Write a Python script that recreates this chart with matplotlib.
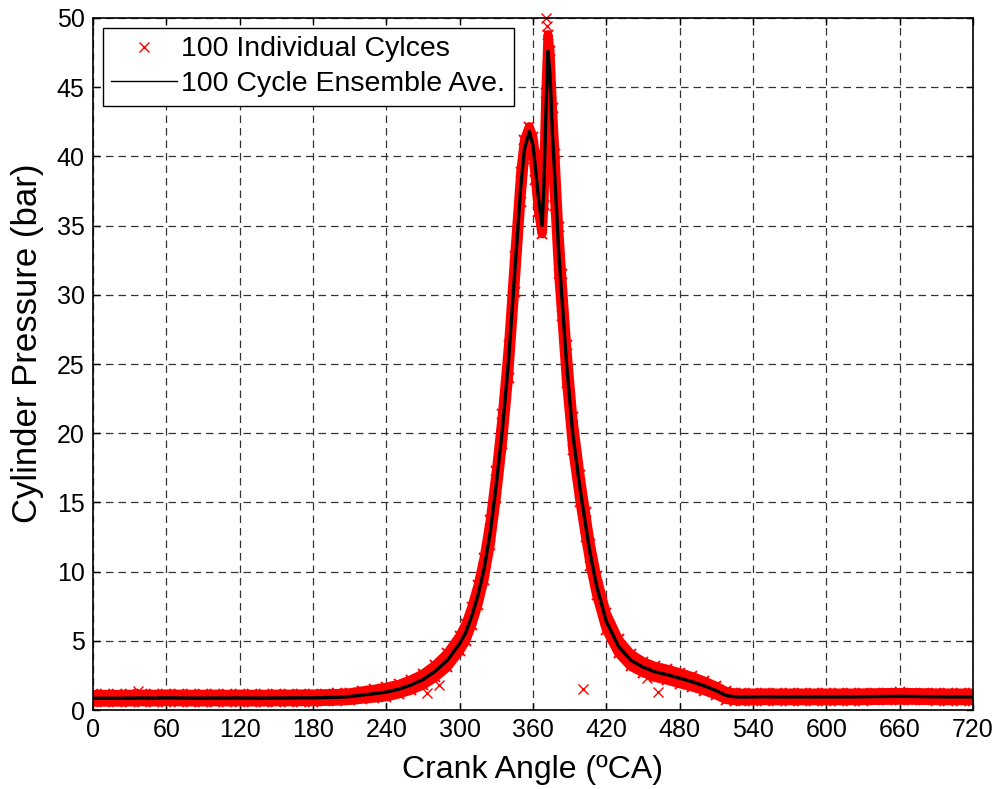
import numpy as np
import matplotlib
matplotlib.use('Agg')
import matplotlib.pyplot as plt
from matplotlib.lines import Line2D

plt.rcParams['font.family'] = ['Liberation Sans', 'DejaVu Sans']

# crank angle samples (deg CA)
crank_angle = [0, 10, 20, 30, 40, 50, 60, 70, 80, 90, 100, 110, 120, 130, 140, 150, 160, 170, 180, 190, 200,
               210, 220, 230, 240, 250, 260, 270, 280, 290,
               300, 305, 310, 315, 320, 325, 330, 335, 340, 345,
               350, 353, 357, 360, 362, 364.5, 367.5, 369, 370.5, 372.3, 374, 376, 378, 381, 383.5, 387.5,
               392.5, 398.5, 403, 407, 412, 420, 430, 440, 450, 460, 470, 480, 490, 500, 510, 518, 525, 530,
               540, 550, 560, 570, 580, 590, 600, 610, 620, 630, 640, 650, 660, 670, 680, 690, 700, 710, 720]

# ensemble average pressure (bar)
ensemble_ave = [0.85, 0.85, 0.85, 0.86, 0.87, 0.86, 0.88, 0.87, 0.86, 0.86, 0.87, 0.86, 0.87, 0.86, 0.86, 0.87,
                0.87, 0.88, 0.88, 0.90, 0.92,
                0.97, 1.08, 1.18, 1.30, 1.50, 1.80, 2.20, 2.80, 3.60,
                4.8, 5.6, 6.8, 8.3, 10.2, 12.8, 16.3, 20.3, 25.2, 31.5,
                37.8, 40.5, 41.8, 40.8, 39.2, 37.0, 35.0, 38.0, 43.0, 47.6, 45.8, 41.5, 38.3, 33.2, 30.0, 25.0,
                20.0, 16.0, 13.4, 11.2, 9.0, 6.4, 4.6, 3.6, 3.1, 2.75, 2.55, 2.3, 2.05, 1.75, 1.4, 1.05, 0.96, 0.94,
                0.95, 0.96, 0.95, 0.95, 0.95, 0.95, 0.95, 0.95, 0.95, 0.96, 0.97, 0.98, 0.99, 0.98, 0.97, 0.96,
                0.95, 0.95, 0.95]

# half width of the scatter of the 100 individual cycles (bar)
cycle_spread = [0.28, 0.28, 0.28, 0.28, 0.28, 0.28, 0.28, 0.28, 0.28, 0.28, 0.28, 0.28, 0.28, 0.28, 0.28, 0.28,
                0.28, 0.28, 0.28, 0.28, 0.28,
                0.28, 0.3, 0.32, 0.35, 0.35, 0.38, 0.4, 0.45, 0.5,
                0.55, 0.6, 0.65, 0.7, 0.8, 0.9, 1.0, 1.1, 1.2, 1.3,
                1.1, 0.7, 0.35, 0.6, 0.9, 1.0, 0.6, 1.5, 1.6, 1.2, 1.8, 2.0, 1.9, 1.7, 1.5, 1.4,
                1.2, 1.0, 0.9, 0.8, 0.7, 0.6, 0.5, 0.45, 0.4, 0.4, 0.4, 0.4, 0.38, 0.35, 0.32, 0.3, 0.28, 0.28,
                0.28, 0.28, 0.28, 0.28, 0.28, 0.28, 0.28, 0.28, 0.28, 0.28, 0.28, 0.28, 0.28, 0.28, 0.28, 0.28,
                0.28, 0.28, 0.28]

# stray individual-cycle points
outlier_angle = [37, 273, 283, 370.6, 371.5, 401, 453, 462]
outlier_pressure = [1.35, 1.2, 1.8, 50.0, 49.4, 1.5, 2.3, 1.3]

x_ticks = list(range(0, 721, 60))
y_ticks = list(range(0, 51, 5))

#############################################
# PLOT
#############################################

ang = np.array(crank_angle)
ave = np.array(ensemble_ave)
spr = np.array(cycle_spread)
lower = ave - spr
upper = ave + spr

fig = plt.figure(figsize=(10.02, 7.89), dpi=100)
ax = fig.add_axes([0.0928, 0.1001, 0.8782, 0.8771])

red = '#ff0000'
ax.fill_between(ang, lower, upper, color=red, lw=0, zorder=2)
for env in (lower, upper):
    ax.plot(ang, env, color=red, lw=6.5, solid_capstyle='round', solid_joinstyle='round', zorder=2)
    ax.plot(ang, env, ls='none', marker='x', color=red, ms=7, mew=1.4, zorder=2)
ax.plot(outlier_angle, outlier_pressure, ls='none', marker='x', color=red, ms=7, mew=1.0, zorder=2,
        clip_on=False)
ax.plot(ang, ave, color='black', lw=2.4, zorder=3)

ax.set_xlim(0, 720)
ax.set_ylim(0, 50)
ax.set_xticks(x_ticks)
ax.set_yticks(y_ticks)
ax.tick_params(direction='in', top=True, right=True, length=5, width=1, labelsize=18, pad=6)
ax.grid(True, color='#333333', ls=(0, (6, 4)), lw=0.9)
for sp in ax.spines.values():
    sp.set_linewidth(1.2)

ax.set_xlabel('Crank Angle (ºCA)', fontsize=23, labelpad=9)
ax.set_ylabel('Cylinder Pressure (bar)', fontsize=25)
ax.yaxis.set_label_coords(-0.056, 0.53)

handles = [Line2D([], [], ls='none', marker='x', color=red, ms=7, mew=1.0),
           Line2D([], [], color='black', lw=1.0)]
leg = ax.legend(handles, ['100 Individual Cylces', '100 Cycle Ensemble Ave.'], loc='upper left',
                fontsize=20.5, fancybox=False, framealpha=1, edgecolor='black', borderaxespad=0.35,
                handlelength=2.3, handletextpad=0.15, labelspacing=0.3, borderpad=0.3)
leg.get_frame().set_linewidth(1.0)

fig.savefig('out.png', dpi=100)
